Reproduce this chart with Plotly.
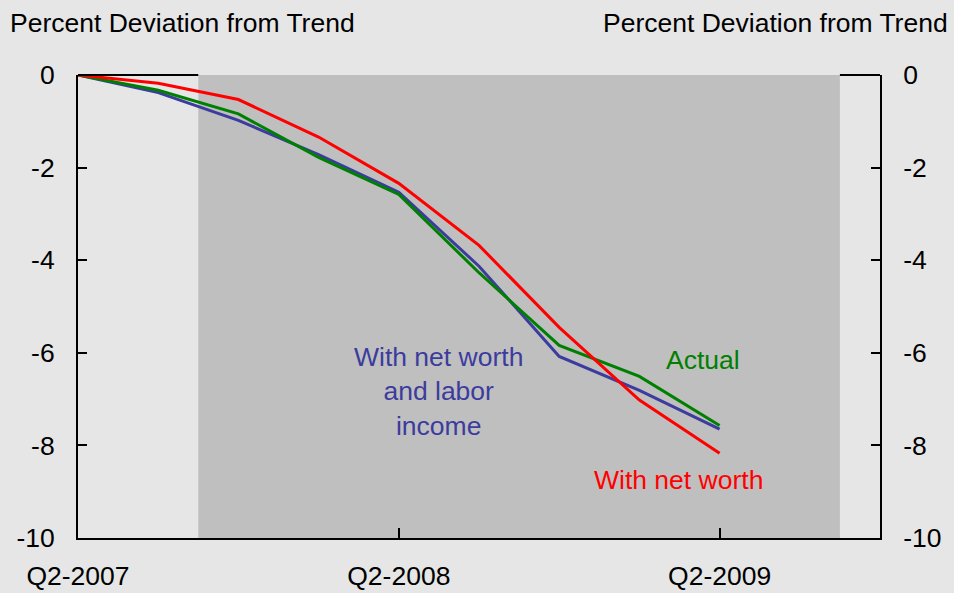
import plotly.graph_objects as go

quarters = ["Q2-2007", "Q3-2007", "Q4-2007", "Q1-2008", "Q2-2008",
            "Q3-2008", "Q4-2008", "Q1-2009", "Q2-2009"]
actual = [0.0, -0.33, -0.84, -1.78, -2.58, -4.27, -5.84, -6.51, -7.57]
net_worth = [0.0, -0.18, -0.53, -1.34, -2.34, -3.68, -5.45, -7.02, -8.17]
net_worth_labor = [0.0, -0.38, -0.98, -1.72, -2.53, -4.13, -6.08, -6.81, -7.65]
x_tick_labels = ["Q2-2007", "Q2-2008", "Q2-2009"]
y_ticks = [0, -2, -4, -6, -8, -10]
y_tick_labels = ["0", "-2", "-4", "-6", "-8", "-10"]
recession_start = 1.5   # Dec 2007, in quarters since Q2-2007
recession_end = 9.5     # Jun 2009
x_max = 10
y_min, y_max = -10, 0

xs = list(range(len(quarters)))
tickvals_x = [quarters.index(q) for q in x_tick_labels]

FONT = "Liberation Sans, Arial, sans-serif"
FS = 26.5
BG = "#e6e6e6"
SHADE = "#bfbfbf"
RED = "#ff0000"
GREEN = "#008000"
BLUE = "#3c3c9e"

fig = go.Figure()
fig.add_trace(go.Scatter(x=xs, y=net_worth_labor, mode="lines",
                         line=dict(color=BLUE, width=3), name="With net worth and labor income"))
fig.add_trace(go.Scatter(x=xs, y=actual, mode="lines",
                         line=dict(color=GREEN, width=3), name="Actual"))
fig.add_trace(go.Scatter(x=xs, y=net_worth, mode="lines",
                         line=dict(color=RED, width=3), name="With net worth"))
# dummy trace to create right axis
fig.add_trace(go.Scatter(x=[None], y=[None], yaxis="y2", showlegend=False, hoverinfo="skip"))

fig.add_shape(type="rect", xref="x", yref="y", x0=recession_start, x1=recession_end,
              y0=y_min, y1=y_max, fillcolor=SHADE, line=dict(width=0), layer="below")
# top frame segments (shade covers frame in the recession span)
for a, b in [(0, recession_start), (recession_end, x_max)]:
    fig.add_shape(type="line", xref="x", yref="paper", x0=a, x1=b, y0=1, y1=1,
                  line=dict(color="black", width=2), layer="above")

fig.add_annotation(x=4.5, y=-6.84, xref="x", yref="y",
                   text="With net worth<br>and labor<br>income", showarrow=False,
                   font=dict(family=FONT, size=FS, color=BLUE), align="center")
fig.add_annotation(x=7.79, y=-6.15, xref="x", yref="y", text="Actual", showarrow=False,
                   font=dict(family=FONT, size=FS, color=GREEN))
fig.add_annotation(x=7.49, y=-8.74, xref="x", yref="y", text="With net worth", showarrow=False,
                   font=dict(family=FONT, size=FS, color=RED))

fig.add_annotation(x=-0.0873, y=1.113, xref="paper", yref="paper", xanchor="left",
                   yanchor="middle", text="Percent Deviation from Trend", showarrow=False,
                   font=dict(family=FONT, size=FS, color="black"))
fig.add_annotation(x=1.0873, y=1.113, xref="paper", yref="paper", xanchor="right",
                   yanchor="middle", text="Percent Deviation from Trend", showarrow=False,
                   font=dict(family=FONT, size=FS, color="black"))

yax = dict(range=[y_min, y_max], tickvals=y_ticks, ticktext=y_tick_labels, showgrid=False,
           zeroline=False, showline=True, linecolor="black", linewidth=2, ticks="inside",
           ticklen=9, tickwidth=1.5, tickcolor="black", ticklabelstandoff=16,
           tickfont=dict(family=FONT, size=FS), automargin=False)

fig.update_layout(
    width=954, height=593,
    margin=dict(l=78, r=74, t=75, b=55, pad=0, autoexpand=False),
    paper_bgcolor=BG, plot_bgcolor=BG,
    showlegend=False,
    font=dict(family=FONT, size=FS, color="black"),
    xaxis=dict(range=[0, x_max], tickvals=tickvals_x, ticktext=x_tick_labels,
               showgrid=False, zeroline=False, showline=True, linecolor="black", linewidth=2,
               mirror=False, ticks="inside", ticklen=10, tickwidth=1.5, tickcolor="black",
               ticklabelstandoff=13, tickfont=dict(family=FONT, size=FS), automargin=False),
    yaxis=yax,
    yaxis2=dict(yax, overlaying="y", side="right", anchor="x"),
)

fig.write_html("out.html", config={"displayModeBar": False},
               post_script="document.body.style.margin='0';document.body.style.overflow='hidden';")
